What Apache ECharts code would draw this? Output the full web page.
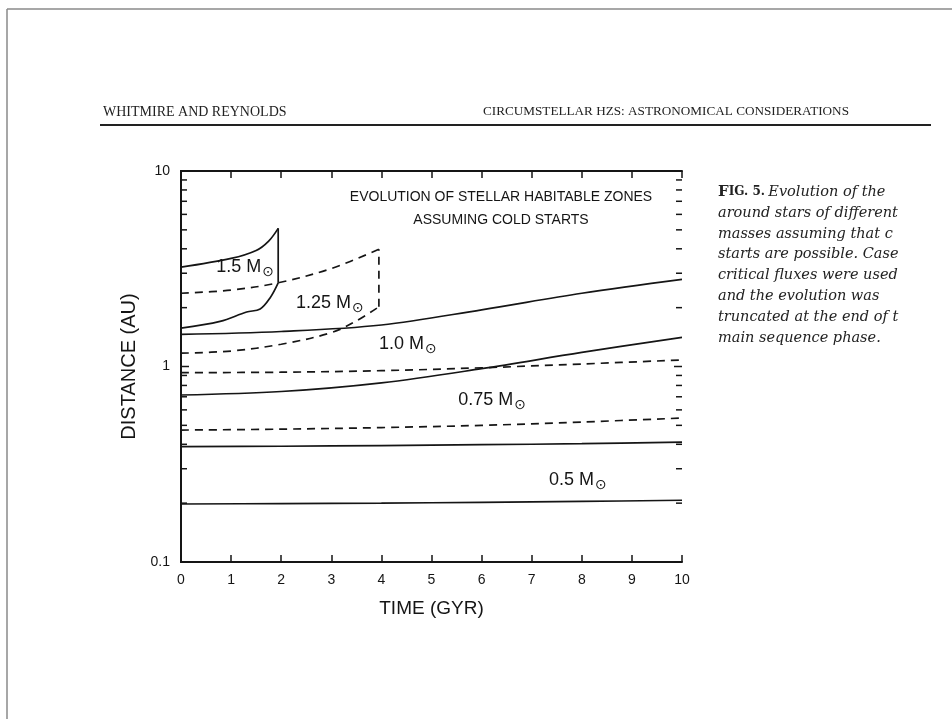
<!DOCTYPE html>
<html><head><meta charset="utf-8">
<script src="https://cdn.jsdelivr.net/npm/echarts@6/dist/echarts.min.js"></script>
<style>html,body{margin:0;padding:0;background:#fff}#c{width:952px;height:719px}</style>
</head><body><div id="c"></div>
<script>
// ---- axis ticks ----
const xTickValues = [0,1,2,3,4,5,6,7,8,9,10];
const yMajorTicks = [0.1, 1, 10];
const yMinorTicks = [0.2,0.3,0.4,0.5,0.6,0.7,0.8,0.9,2,3,4,5,6,7,8,9];

// ---- curves (time in Gyr, distance in AU) ----
const m05Inner_t = [0,2,4,6,8,10];
const m05Inner_v = [0.198,0.199,0.200,0.202,0.204,0.207];
const m05Outer_t = [0,2,4,6,8,10];
const m05Outer_v = [0.389,0.391,0.394,0.398,0.403,0.410];

const m075Inner_t = [0,2,4,6,8,10];
const m075Inner_v = [0.473,0.478,0.487,0.500,0.520,0.545];
const m075Outer_t = [0,2,4,6,8,10];
const m075Outer_v = [0.930,0.935,0.952,0.985,1.030,1.080];

const m10Inner_t = [0,2,4,6,8,10];
const m10Inner_v = [0.715,0.745,0.825,0.975,1.180,1.410];
const m10Outer_t = [0,2,4,6,8,10];
const m10Outer_v = [1.46,1.51,1.63,1.95,2.37,2.79];

const m125Inner_t = [0,1,2,3,3.5,3.95];
const m125Inner_v = [1.17,1.20,1.30,1.49,1.71,2.02];
const m125Outer_t = [0,1,1.94,3,3.95];
const m125Outer_v = [2.37,2.46,2.68,3.17,3.98];

const m15Inner_t = [0,0.78,1.31,1.58,1.78,1.94];
const m15Inner_v = [1.57,1.70,1.90,1.97,2.25,2.68];
const m15Outer_t = [0,1,1.5,1.75,1.94];
const m15Outer_v = [3.22,3.57,3.92,4.38,5.09];

// ---- curve labels (mass, position in data coords) ----
const labelText = ['1.5 M','1.25 M','1.0 M','0.75 M','0.5 M'];
const labelT = [1.28, 2.97, 4.53, 6.21, 7.92];
const labelV = [3.22, 2.11, 1.30, 0.675, 0.263];

const titleLines = ['EVOLUTION OF STELLAR HABITABLE ZONES', 'ASSUMING COLD STARTS'];
const captionLines = [
  'Evolution of the HZs',
  'around stars of different',
  'masses assuming that cold',
  'starts are possible. Case A',
  'critical fluxes were used',
  'and the evolution was',
  'truncated at the end of the',
  'main sequence phase.'
];

function pairs(t, v){ return t.map((x,i)=>[x, v[i]]); }
const last = a => a[a.length-1];
const INK = '#151515';
function curve(name, data, dashed, smooth){
  return {
    name, type:'line', data, symbol:'none',
    smooth: smooth ? 0.35 : false,
    lineStyle:{color:INK, width:1.7, type: dashed ? [8,6] : 'solid'},
    silent:true, z:3
  };
}

const chart = echarts.init(document.getElementById('c'), null, {renderer:'canvas'});
const sans = 'Liberation Sans';
const xMin = xTickValues[0], xMax = last(xTickValues);

const axisLine = {show:true, lineStyle:{color:INK, width:2}};
const tickStyle = {color:INK, width:1.5};
// y ticks drawn inside on both sides: [x-side, value, length]
const yTickData = [
  ...yMajorTicks.flatMap(v => [[xMin, v, 8], [xMax, v, 8]]),
  ...yMinorTicks.flatMap(v => [[xMin, v, 6], [xMax, v, 6]])
];
const option = {
  backgroundColor:'#ffffff',
  animation:false,
  grid:{left:181, top:171, width:501, height:391, containLabel:false},
  xAxis:[
    {type:'value', min:xMin, max:xMax, interval:1, position:'bottom',
     axisLine, splitLine:{show:false},
     axisTick:{show:true, inside:true, length:7, lineStyle:tickStyle},
     axisLabel:{fontFamily:sans, fontSize:14, color:INK, margin:11},
     name:'TIME (GYR)', nameLocation:'middle', nameGap:37,
     nameTextStyle:{fontFamily:sans, fontSize:19, color:INK}},
    {type:'value', min:xMin, max:xMax, interval:1, position:'top',
     axisLine, splitLine:{show:false},
     axisTick:{show:true, inside:true, length:7, lineStyle:tickStyle},
     axisLabel:{show:false}}
  ],
  yAxis:[
    {type:'log', logBase:10, min:yMajorTicks[0], max:last(yMajorTicks), position:'left',
     axisLine, splitLine:{show:false},
     axisTick:{show:false},
     axisLabel:{fontFamily:sans, fontSize:14, color:INK, margin:11,
       formatter:v=>String(Math.round(v*10)/10)},
     name:'DISTANCE (AU)', nameLocation:'middle', nameGap:35, nameRotate:90,
     nameTextStyle:{fontFamily:sans, fontSize:20, color:INK}},
    {type:'log', logBase:10, min:yMajorTicks[0], max:last(yMajorTicks), position:'right',
     axisLine, splitLine:{show:false},
     axisTick:{show:false},
     axisLabel:{show:false}}
  ],
  series:[
    curve('0.5 inner', pairs(m05Inner_t, m05Inner_v), false, true),
    curve('0.5 outer', pairs(m05Outer_t, m05Outer_v), false, true),
    curve('0.75 inner', pairs(m075Inner_t, m075Inner_v), true, true),
    curve('0.75 outer', pairs(m075Outer_t, m075Outer_v), true, true),
    curve('1.0 inner', pairs(m10Inner_t, m10Inner_v), false, true),
    curve('1.0 outer', pairs(m10Outer_t, m10Outer_v), false, true),
    curve('1.25 inner', pairs(m125Inner_t, m125Inner_v), true, true),
    curve('1.25 outer', pairs(m125Outer_t, m125Outer_v), true, true),
    curve('1.25 end', [[last(m125Inner_t), last(m125Inner_v)], [last(m125Outer_t), last(m125Outer_v)]], true, false),
    curve('1.5 inner', pairs(m15Inner_t, m15Inner_v), false, true),
    curve('1.5 outer', pairs(m15Outer_t, m15Outer_v), false, true),
    curve('1.5 end', [[last(m15Inner_t), last(m15Inner_v)], [last(m15Outer_t), last(m15Outer_v)]], false, false),
    {
      name:'y ticks', type:'custom', coordinateSystem:'cartesian2d', silent:true, clip:false, z:4,
      data: yTickData,
      renderItem:(params, api) => {
        const side = api.value(0);
        const p = api.coord([side, api.value(1)]);
        const len = api.value(2);
        const dir = side === xMin ? 1 : -1;
        return {type:'line', shape:{x1:p[0], y1:p[1], x2:p[0] + dir*len, y2:p[1]},
                style:{stroke:INK, lineWidth:1.5}};
      }
    },
    {
      name:'labels', type:'scatter', symbolSize:0, silent:true, z:5,
      itemStyle:{opacity:1},
      data: labelText.map((s,i)=>({value:[labelT[i], labelV[i]], name:s})),
      label:{show:true, position:'inside', opacity:1,
        formatter: p => '{n|' + p.name + '}{s|⊙}',
        rich:{
          n:{fontFamily:sans, fontSize:18, color:INK},
          s:{fontFamily:'DejaVu Sans', fontSize:14, color:INK, padding:[10,0,0,1]}
        }}
    }
  ],
  graphic:[
    // page frame (top & left edges)
    {type:'line', shape:{x1:7, y1:9, x2:952, y2:9}, style:{stroke:'#8a8a8a', lineWidth:1.5}},
    {type:'line', shape:{x1:7, y1:9, x2:7, y2:719}, style:{stroke:'#8a8a8a', lineWidth:1.5}},
    // running header
    {type:'text', left:103, top:105, style:{text:'WHITMIRE AND REYNOLDS', font:'14px "Liberation Serif"', fill:'#222'}},
    {type:'text', left:483, top:105, style:{text:'CIRCUMSTELLAR HZS: ASTRONOMICAL CONSIDERATIONS', font:'13.2px "Liberation Serif"', fill:'#222'}},
    {type:'line', shape:{x1:100, y1:125, x2:931, y2:125}, style:{stroke:'#222', lineWidth:2}},
    // in-plot title
    {type:'text', x:501, y:197, style:{text:titleLines[0], font:'14px "Liberation Sans"', fill:INK, align:'center', verticalAlign:'middle'}},
    {type:'text', x:501, y:220, style:{text:titleLines[1], font:'14px "Liberation Sans"', fill:INK, align:'center', verticalAlign:'middle'}},
    // caption
    {type:'text', x:718, y:192, style:{
      text:'{b|F}{c|IG. 5.} {i|' + captionLines[0] + '}',
      width:184, overflow:'truncate', ellipsis:'', verticalAlign:'middle',
      rich:{
        b:{fontFamily:'DejaVu Serif', fontSize:15, fontWeight:'bold', fill:'#222'},
        c:{fontFamily:'DejaVu Serif', fontSize:12, fontWeight:'bold', fill:'#222'},
        i:{fontFamily:'DejaVu Serif', fontSize:14.5, fontStyle:'italic', fill:'#222'}
      }}},
    ...captionLines.slice(1).map((s,i)=>({type:'text', x:718, y:192 + 20.9*(i+1), style:{
      text:s, width:184, overflow:'truncate', ellipsis:'', verticalAlign:'middle',
      font:'italic 14.5px "DejaVu Serif"', fill:'#222'}}))
  ]
};
chart.setOption(option);
</script></body></html>
